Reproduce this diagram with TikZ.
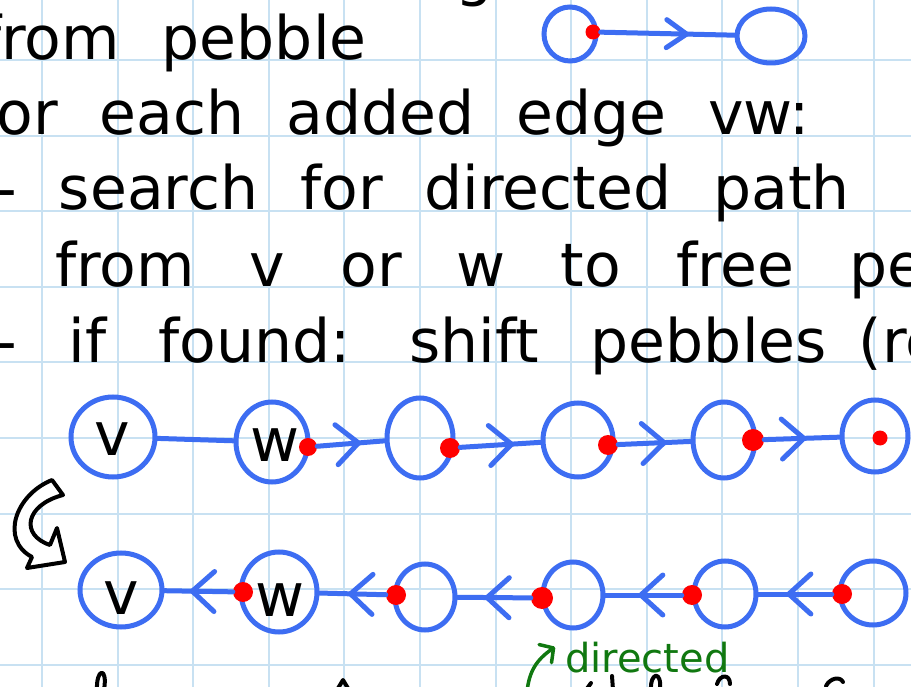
\documentclass[tikz,border=0pt]{standalone}
\usepackage{fontspec}
\setmainfont{DejaVu Sans}
\usetikzlibrary{shapes.geometric,arrows.meta,decorations.markings}
\definecolor{gridblue}{RGB}{200,225,242}
\definecolor{penblue}{RGB}{61,109,242}
\definecolor{penred}{RGB}{255,0,0}
\definecolor{pengreen}{RGB}{16,120,16}
\newcommand{\handsize}{\fontsize{60}{70}\selectfont}
\begin{document}
\begin{tikzpicture}[x=1pt,y=-1pt,
  gridline/.style={gridblue, line width=2pt},
  hand/.style={anchor=base west, inner sep=0pt, font={\handsize\spaceskip=#1pt\relax}},
  hand/.default=42,
  lbl/.style={inner sep=0pt, font=\handsize},
  ell/.style={ellipse, draw=penblue, line width=5pt, inner sep=0pt},
  peb/.style={circle, fill=penred, inner sep=0pt, minimum size=#1},
  link/.style={penblue, line width=5pt, line cap=round},
  chev/.style={postaction={decorate}, decoration={markings, mark=at position #1 with {\arrow[penblue, line width=5pt]{Straight Barb[length=22pt,width=40pt,round]}}}},
  chevsmall/.style={postaction={decorate}, decoration={markings, mark=at position #1 with {\arrow[penblue, line width=5pt]{Straight Barb[length=20pt,width=28pt,round]}}}},
  ink/.style={black, line width=4pt, line cap=round, line join=round}
]
\useasboundingbox (0,0) rectangle (911,687);
\fill[white] (0,0) rectangle (911,687);
% grid paper
\foreach \k in {0,...,11} \draw[gridline] ({42+75.6*\k},0) -- ({42+75.6*\k},687);
\foreach \k in {0,...,8} \draw[gridline] (0,{60+75.6*\k}) -- (911,{60+75.6*\k});

% handwritten text
\node[hand] (l0) at (455,-5) {g};
\node[hand] (l1) at (-20,60) {from pebble};
\node[hand] (l2) at (-25,135) {for each added edge vw:};
\node[hand] (l3) at (-5,210) {- search for directed path};
\node[hand=55] (l4) at (55,287) {from v or w to free pe};
\node[hand=52] (l5) at (-5,362) {- if found: shift pebbles\hspace{32pt}(re};

% small diagram at top right
\node[ell, minimum width=52pt, minimum height=54pt] (t1) at (570,34) {};
\node[ell, minimum width=68pt, minimum height=54pt] (t2) at (771,36) {};
\node[peb=15pt] (dt) at (593,32) {};
\draw[link, chevsmall=0.66] (dt) -- (t2);

% row 1
\node[ell, minimum width=84pt, minimum height=80pt] (v1) at (113,437) {};
\node[lbl] (v1t) at (112,439) {v};
\node[ell, minimum width=72pt, minimum height=80pt] (w1) at (272,442) {};
\node[lbl] (w1t) at (275,445) {w};
\node[ell, minimum width=66pt, minimum height=80pt] (c3) at (420,438) {};
\node[ell, minimum width=70pt, minimum height=74pt] (c4) at (578,440) {};
\node[ell, minimum width=62pt, minimum height=76pt] (c5) at (724,440) {};
\node[ell, minimum width=66pt, minimum height=72pt] (c6) at (875,436) {};
\node[peb=18pt] (dw1) at (308,447) {};
\node[peb=20pt] (d3) at (450,448) {};
\node[peb=20pt] (d4) at (608,445) {};
\node[peb=22pt] (d5) at (753,440) {};
\node[peb=15pt] (d6) at (880,438) {};
\draw[link] (v1) -- (w1);
\draw[link, chev=0.65] (dw1) -- (c3);
\draw[link, chev=0.67] (d3) -- (c4);
\draw[link, chev=0.67] (d4) -- (c5);
\draw[link, chev=0.56] (d5) -- (c6);

% hollow curved arrow
\draw[ink, fill=white] (52,480) .. controls (15,495) and (0,540) .. (32,557) -- (27,568) -- (65,562) -- (57,528) -- (50,545) .. controls (20,535) and (25,505) .. (63,495) -- cycle;

% row 2
\node[ell, minimum width=82pt, minimum height=74pt] (v2) at (121,590) {};
\node[lbl] (v2t) at (121,598) {v};
\node[ell, minimum width=76pt, minimum height=80pt] (w2) at (279,592) {};
\node[lbl] (w2t) at (280,600) {w};
\node[ell, minimum width=60pt, minimum height=66pt] (c3b) at (425,597) {};
\node[ell, minimum width=60pt, minimum height=66pt] (c4b) at (573,595) {};
\node[ell, minimum width=62pt, minimum height=66pt] (c5b) at (725,594) {};
\node[ell, minimum width=66pt, minimum height=64pt] (c6b) at (873,593) {};
\node[peb=20pt] (dw2) at (243,592) {};
\node[peb=20pt] (d3b) at (396,595) {};
\node[peb=22pt] (d4b) at (542,598) {};
\node[peb=20pt] (d5b) at (692,595) {};
\node[peb=20pt] (d6b) at (842,594) {};
\draw[link, chev=0.63] (dw2) -- (v2);
\draw[link, chev=0.57] (d3b) -- (w2);
\draw[link, chev=0.63] (d4b) -- (c3b);
\draw[link, chev=0.57] (d5b) -- (c4b);
\draw[link, chev=0.62] (d6b) -- (c5b);

% green annotation
\node[anchor=base west, inner sep=0pt, text=pengreen, font=\fontsize{40}{48}\selectfont] (dirt) at (565,672) {directed};
\coordinate (gs) at (527,692);
\coordinate (ge) at (555,647);
\draw[pengreen, line width=3.5pt, line cap=round, -{Straight Barb[length=10pt,width=22pt,round]}] (gs) .. controls (529,672) and (536,660) .. (ge);

% tops of the next (cut off) handwritten line
\draw[ink] (97,690) .. controls (96,668) and (108,666) .. (104,690);
\draw[ink] (337,690) -- (343,680) -- (349,690);
\draw[ink] (586,690) -- (591,683);
\draw[ink] (612,676) -- (613,690);
\draw[ink] (651,690) .. controls (650,672) and (662,670) .. (660,690);
\draw[ink] (717,684) .. controls (720,674) and (730,674) .. (730,684);
\draw[ink] (826,686) .. controls (830,678) and (840,676) .. (843,682);
\end{tikzpicture}
\end{document}
